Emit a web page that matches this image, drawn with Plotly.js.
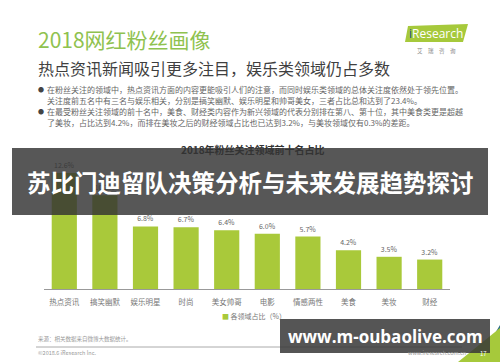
<!DOCTYPE html>
<html>
<head>
<meta charset="utf-8">
<script src="https://cdn.plot.ly/plotly-3.0.1.min.js"></script>
<style>html,body{margin:0;padding:0;background:#fff;}#chart{width:500px;height:362px;}</style>
</head>
<body>
<div id="chart"></div>
<script>
// ---- data ----
const categories = ["热点资讯","搞笑幽默","娱乐明星","时尚","美女帅哥","电影","情感两性","美食","美妆","财经"];
const shares = [12.6, 10.2, 6.8, 6.7, 6.4, 6.0, 5.7, 4.2, 3.5, 3.2];
const valueLabels = ["12.6%","10.2%","6.8%","6.7%","6.4%","6.0%","5.7%","4.2%","3.5%","3.2%"];
const seriesName = "各领域占比（%）";
const pageTitle = "2018网红粉丝画像";
const pageSubtitle = "热点资讯新闻吸引更多注目，娱乐类领域仍占多数";
const chartTitle = "2018年粉丝关注领域前十名占比";
const bulletLines = [
  "在粉丝关注的领域中，热点资讯方面的内容更能吸引人们的注意，而同时娱乐类领域的总体关注度依然处于领先位置。",
  "关注度前五名中有三名与娱乐相关，分别是搞笑幽默、娱乐明星和帅哥美女，三者占比总和达到了23.4%。",
  "在最受粉丝关注领域的前十名中，美食、财经类内容作为新兴领域的代表分别排在第八、第十位，其中美食类更是超越",
  "了美妆，占比达到4.2%，而排在美妆之后的财经领域占比也已达到3.2%，与美妆领域仅有0.3%的差距。"
];
const bannerText = "苏比门迪留队决策分析与未来发展趋势探讨";
const watermarkText = "www.m-oubaolive.com";

// ---- layout helpers (pixel -> paper) ----
const W = 500, H = 362, ML = 44, MR = 50, MT = 165, MB = 73;
const PW = W - ML - MR, PH = H - MT - MB;
const px = x => (x - ML) / PW;
const py = y => (H - MB - y) / PH;
const CJK = '"Noto Sans CJK SC", "Noto Sans", sans-serif';
const GREEN = '#a9c93a';

function ann(text, x, y, opts) {
  return Object.assign({
    text: text, xref: 'paper', yref: 'paper', x: px(x), y: py(y),
    xanchor: 'left', yanchor: 'middle', showarrow: false,
    font: {family: CJK, size: 8, color: '#666'}
  }, opts || {});
}
function path(pts) {
  return 'M' + pts.map(p => px(p[0]) + ',' + py(p[1])).join(' L') + ' Z';
}

const annotations = [
  ann(pageTitle, 36, 39, {font: {family: CJK, size: 21, color: '#8fc24f'}}),
  ann(pageSubtitle, 36, 68, {font: {family: CJK, size: 16, color: '#3f3f3f'}}),
  ann('●', 36, 89, {font: {family: CJK, size: 6, color: '#444'}}),
  ann(bulletLines[0], 45, 89),
  ann(bulletLines[1], 45, 100),
  ann('●', 36, 111, {font: {family: CJK, size: 6, color: '#444'}}),
  ann(bulletLines[2], 45, 111),
  ann(bulletLines[3], 45, 122),
  ann(chartTitle, 253, 149, {xanchor: 'center', font: {family: CJK, size: 10, color: '#333', weight: 'bold'}}),
  ann('<span style="color:' + GREEN + '">■</span> ' + seriesName, 220, 316, {font: {family: CJK, size: 7, color: '#777'}}),
  ann('<span style="color:#1d4f86">i</span>Research', 436, 33, {xanchor: 'center', font: {family: '"Open Sans", sans-serif', size: 12, color: '#fff'}}),
  ann('艾　瑞　咨　询', 436, 51, {xanchor: 'center', font: {family: CJK, size: 5.5, color: '#888'}}),
  ann('来源：相关数据来自微博大数据统计。', 36, 339, {font: {family: CJK, size: 5.5, color: '#999'}}),
  ann('©2018.6 iResearch Inc.', 36, 353, {font: {family: CJK, size: 5.5, color: '#999'}}),
  ann('www.iresearch.com.cn', 406, 353, {font: {family: CJK, size: 5.5, color: '#999'}}),
  ann('17', 478, 353, {font: {family: CJK, size: 6, color: '#fff'}}),
  ann(bannerText, 250, 182, {xanchor: 'center', font: {family: CJK, size: 23.5, color: '#fff', weight: 'bold'}}),
  ann(watermarkText, 385, 336, {xanchor: 'center', font: {family: '"Open Sans", sans-serif', size: 17, color: '#fff', weight: 'bold'}})
];

const shapes = [
  // iResearch logo background
  {type: 'path', xref: 'paper', yref: 'paper', path: path([[408,26],[468,24],[463,42],[405,42]]), fillcolor: '#a6c93b', line: {width: 0}, layer: 'below'},
  // footer rule
  {type: 'line', xref: 'paper', yref: 'paper', x0: px(36), x1: px(462), y0: py(347), y1: py(347), line: {color: '#aaa', width: 1}},
  // decorative corner triangles
  {type: 'path', xref: 'paper', yref: 'paper', path: path([[488,345],[500,325],[500,345]]), fillcolor: '#2f6f86', line: {width: 0}},
  {type: 'path', xref: 'paper', yref: 'paper', path: path([[458,362],[500,328],[500,362]]), fillcolor: '#a6c93b', line: {width: 0}},
  // banner overlay
  {type: 'rect', xref: 'paper', yref: 'paper', x0: px(12), x1: px(488), y0: py(215), y1: py(148), fillcolor: 'rgba(50,50,50,0.82)', line: {width: 0}, layer: 'above'},
  // watermark box
  {type: 'rect', xref: 'paper', yref: 'paper', x0: px(280), x1: px(490), y0: py(353), y1: py(319), fillcolor: 'rgba(55,55,55,0.85)', line: {width: 0}, layer: 'above'}
];

const trace = {
  type: 'bar', x: categories, y: shares, name: seriesName,
  marker: {color: GREEN},
  text: valueLabels, textposition: 'outside', cliponaxis: false,
  textfont: {family: CJK, size: 7, color: '#666'},
  hoverinfo: 'x+y', showlegend: false
};

const layout = {
  width: W, height: H,
  margin: {l: ML, r: MR, t: MT, b: MB, pad: 0},
  paper_bgcolor: '#fff', plot_bgcolor: '#fff',
  bargap: 0.38,
  xaxis: {
    type: 'category', showline: true, linecolor: '#999', linewidth: 1,
    ticks: '', showgrid: false, zeroline: false,
    tickfont: {family: CJK, size: 7.5, color: '#777'}, ticklabelstandoff: 6
  },
  yaxis: {range: [0, 13.48], visible: false, showgrid: false, zeroline: false},
  showlegend: false,
  annotations: annotations,
  shapes: shapes
};

Plotly.newPlot('chart', [trace], layout, {displayModeBar: false, staticPlot: true});
</script>
</body>
</html>
